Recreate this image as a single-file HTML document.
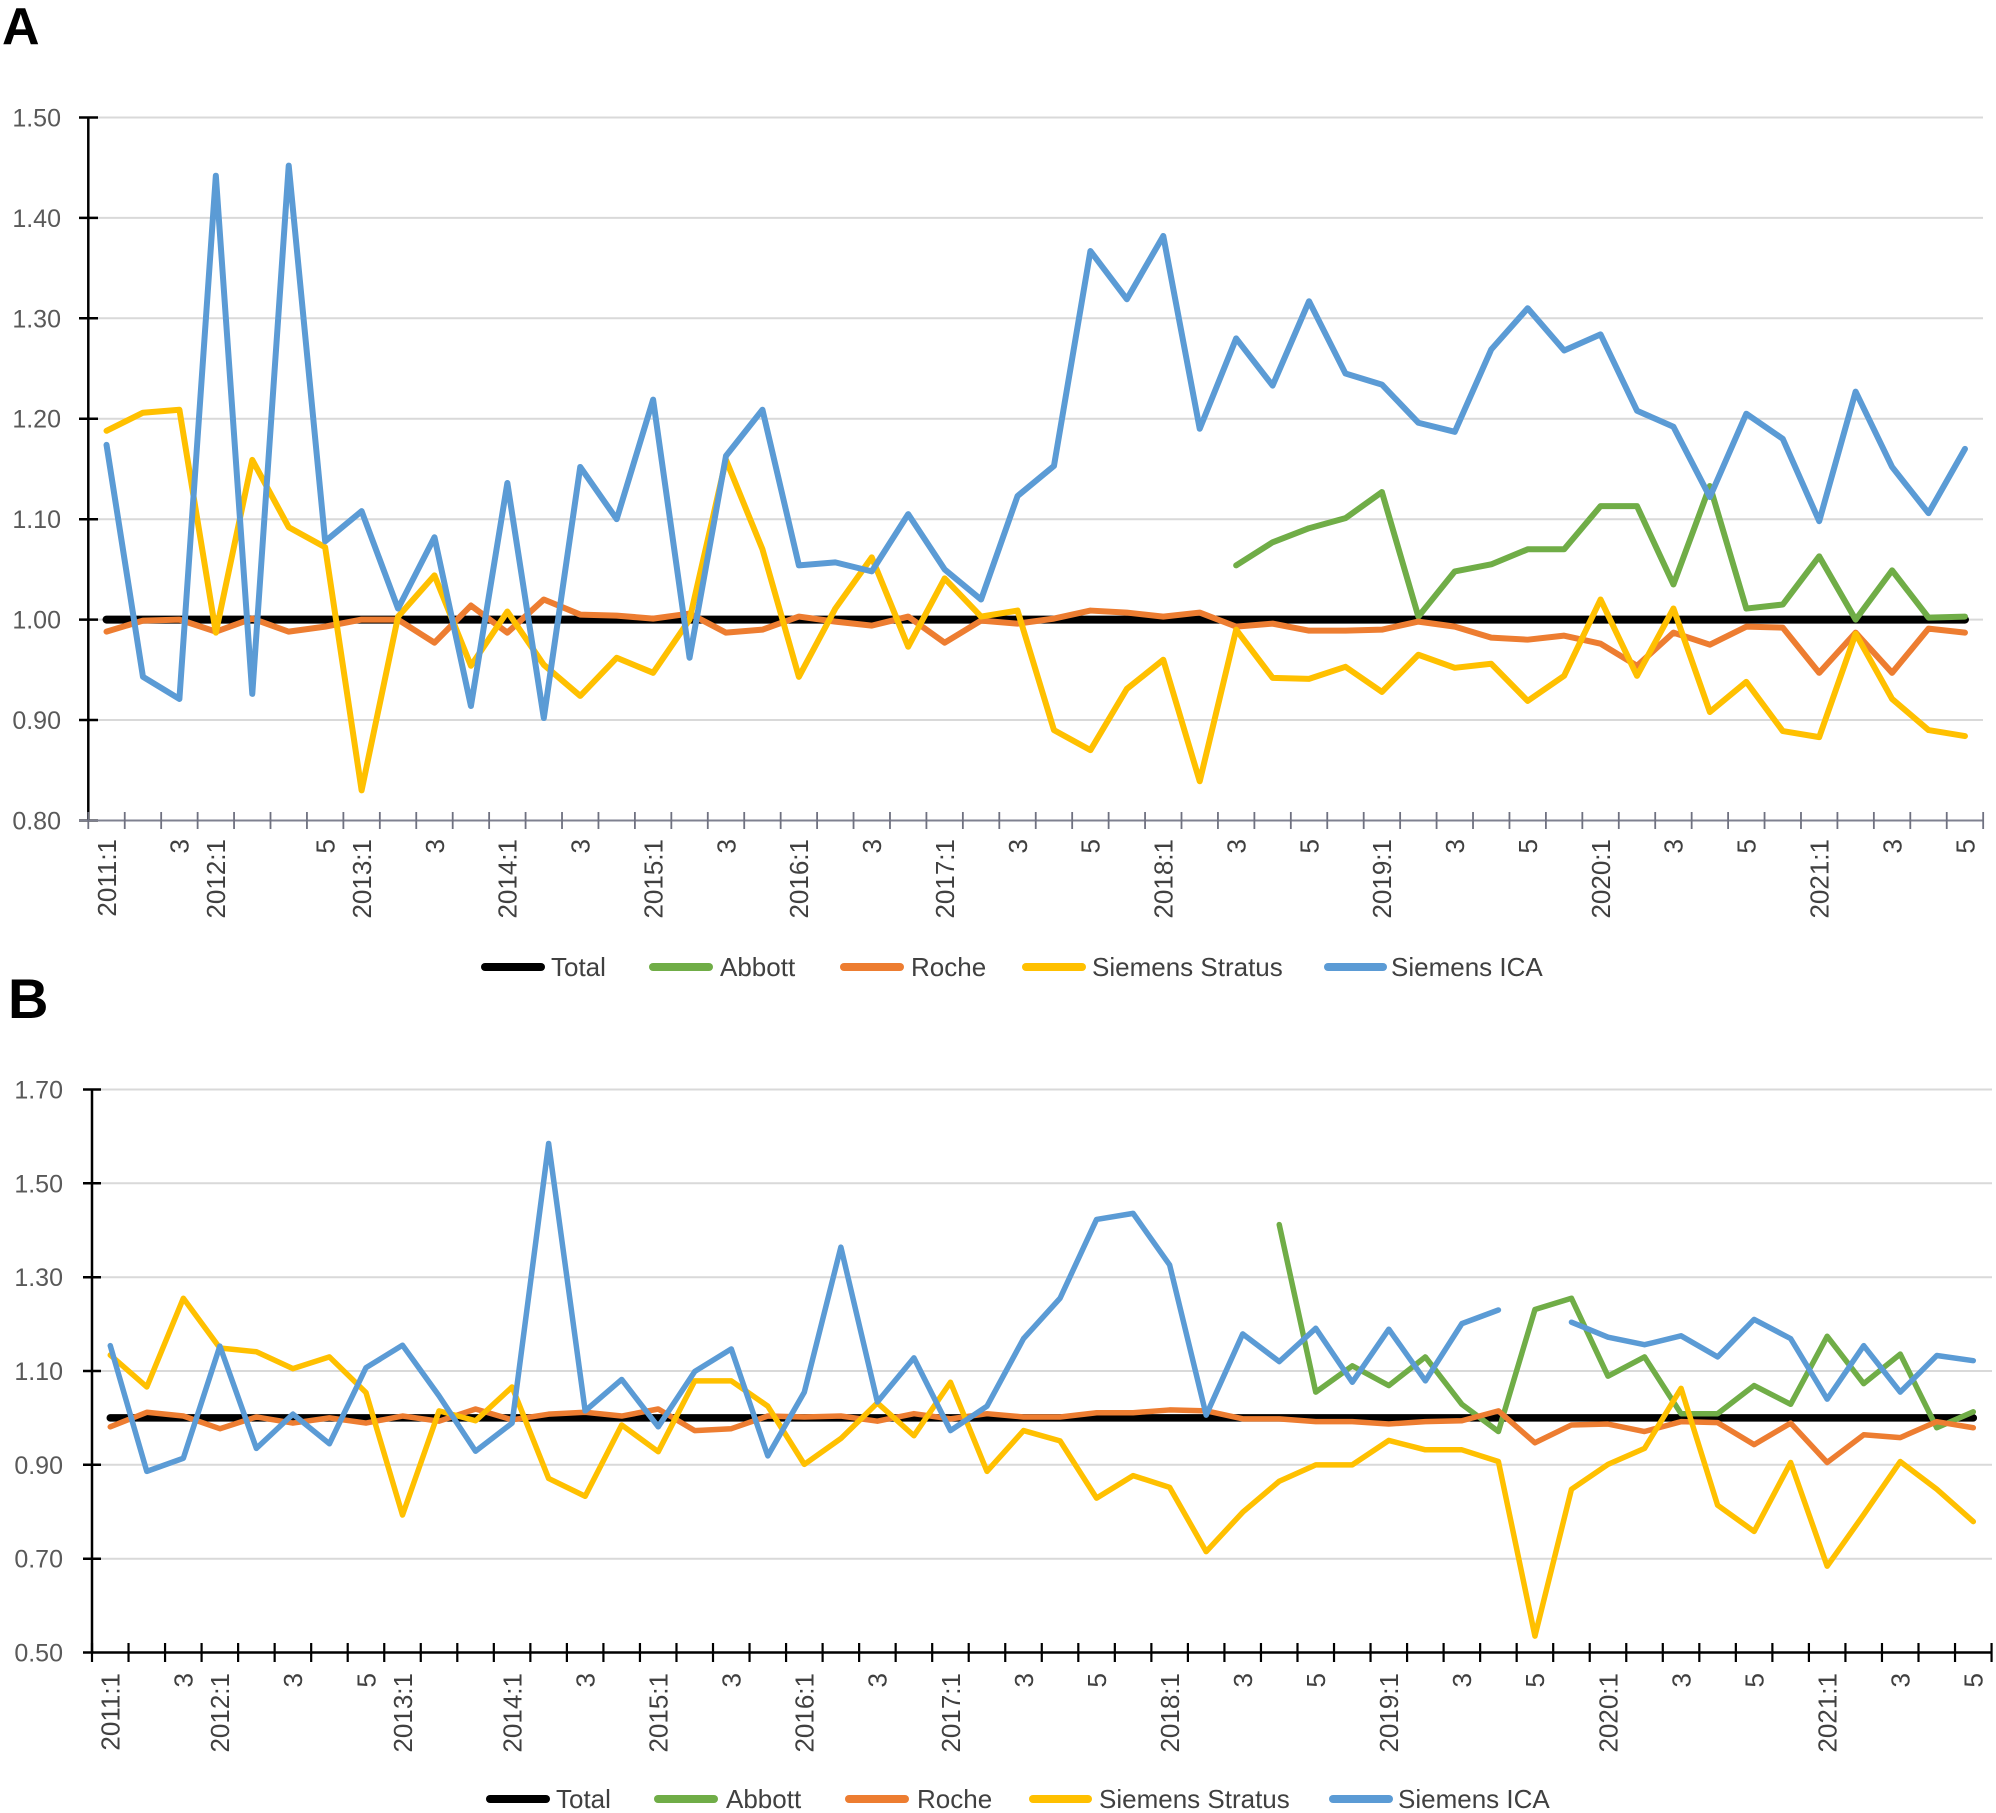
<!DOCTYPE html>
<html><head><meta charset="utf-8"><style>
html,body{margin:0;padding:0;background:#fff;}
svg{display:block;}
text{font-family:"Liberation Sans",Arial,sans-serif;}
.yl{font-size:25px;fill:#595959;text-anchor:end;}
.xl{font-size:26px;fill:#404040;text-anchor:end;}
.lg{font-size:26px;fill:#404040;}
.s{fill:none;vector-effect:non-scaling-stroke;stroke-linejoin:round;stroke-linecap:round;}
</style></head><body>
<svg width="1996" height="1813" viewBox="0 0 1996 1813" xmlns="http://www.w3.org/2000/svg">
<rect width="1996" height="1813" fill="#fff"/>
<text x="2" y="44" style="font-size:52px;font-weight:bold;fill:#000">A</text>
<text x="8" y="1018" style="font-size:56px;font-weight:bold;fill:#000">B</text>

<!-- ============ CHART A ============ -->
<g stroke="#d9d9d9" stroke-width="2">
<line x1="98" y1="117.45" x2="1983" y2="117.45"/>
<line x1="98" y1="217.9" x2="1983" y2="217.9"/>
<line x1="98" y1="318.3" x2="1983" y2="318.3"/>
<line x1="98" y1="418.7" x2="1983" y2="418.7"/>
<line x1="98" y1="519.2" x2="1983" y2="519.2"/>
<line x1="98" y1="619.6" x2="1983" y2="619.6"/>
<line x1="98" y1="720" x2="1983" y2="720"/>
</g>
<g class="yl">
<text x="61" y="126.5">1.50</text>
<text x="61" y="226.9">1.40</text>
<text x="61" y="327.3">1.30</text>
<text x="61" y="427.7">1.20</text>
<text x="61" y="528.2">1.10</text>
<text x="61" y="628.6">1.00</text>
<text x="61" y="729">0.90</text>
<text x="61" y="829.5">0.80</text>
</g>
<!-- y axis A -->
<g stroke="#000" stroke-width="2.5">
<line x1="88.3" y1="117.45" x2="88.3" y2="820.5"/>
<line x1="79" y1="117.45" x2="98" y2="117.45"/>
<line x1="79" y1="217.9" x2="98" y2="217.9"/>
<line x1="79" y1="318.3" x2="98" y2="318.3"/>
<line x1="79" y1="418.7" x2="98" y2="418.7"/>
<line x1="79" y1="519.2" x2="98" y2="519.2"/>
<line x1="79" y1="619.6" x2="98" y2="619.6"/>
<line x1="79" y1="720" x2="98" y2="720"/>
<line x1="79" y1="820.5" x2="98" y2="820.5"/>
</g>
<!-- x axis A -->
<line x1="79" y1="820.5" x2="1983.3" y2="820.5" stroke="#7f8190" stroke-width="2"/>
<g transform="translate(88.3,0)">
<path stroke="#6f7180" stroke-width="1.8" fill="none" d="M0 812V829M36.44 812V829M72.88 812V829M109.32 812V829M145.76 812V829M182.2 812V829M218.64 812V829M255.08 812V829M291.52 812V829M327.96 812V829M364.4 812V829M400.84 812V829M437.28 812V829M473.72 812V829M510.16 812V829M546.6 812V829M583.04 812V829M619.48 812V829M655.92 812V829M692.36 812V829M728.8 812V829M765.24 812V829M801.68 812V829M838.12 812V829M874.56 812V829M911 812V829M947.44 812V829M983.88 812V829M1020.32 812V829M1056.76 812V829M1093.2 812V829M1129.64 812V829M1166.08 812V829M1202.52 812V829M1238.96 812V829M1275.4 812V829M1311.84 812V829M1348.28 812V829M1384.72 812V829M1421.16 812V829M1457.6 812V829M1494.04 812V829M1530.48 812V829M1566.92 812V829M1603.36 812V829M1639.8 812V829M1676.24 812V829M1712.68 812V829M1749.12 812V829M1785.56 812V829M1822 812V829M1858.44 812V829M1894.88 812V829"/>
</g>
<g class="xl">
<text transform="translate(106.5,839) rotate(-90)" y="9.3">2011:1</text>
<text transform="translate(179.4,839) rotate(-90)" y="9.3">3</text>
<text transform="translate(215.8,839) rotate(-90)" y="9.3">2012:1</text>
<text transform="translate(325.2,839) rotate(-90)" y="9.3">5</text>
<text transform="translate(361.6,839) rotate(-90)" y="9.3">2013:1</text>
<text transform="translate(434.5,839) rotate(-90)" y="9.3">3</text>
<text transform="translate(507.4,839) rotate(-90)" y="9.3">2014:1</text>
<text transform="translate(580.2,839) rotate(-90)" y="9.3">3</text>
<text transform="translate(653.1,839) rotate(-90)" y="9.3">2015:1</text>
<text transform="translate(726.0,839) rotate(-90)" y="9.3">3</text>
<text transform="translate(798.9,839) rotate(-90)" y="9.3">2016:1</text>
<text transform="translate(871.8,839) rotate(-90)" y="9.3">3</text>
<text transform="translate(944.6,839) rotate(-90)" y="9.3">2017:1</text>
<text transform="translate(1017.5,839) rotate(-90)" y="9.3">3</text>
<text transform="translate(1090.4,839) rotate(-90)" y="9.3">5</text>
<text transform="translate(1163.3,839) rotate(-90)" y="9.3">2018:1</text>
<text transform="translate(1236.2,839) rotate(-90)" y="9.3">3</text>
<text transform="translate(1309.0,839) rotate(-90)" y="9.3">5</text>
<text transform="translate(1381.9,839) rotate(-90)" y="9.3">2019:1</text>
<text transform="translate(1454.8,839) rotate(-90)" y="9.3">3</text>
<text transform="translate(1527.7,839) rotate(-90)" y="9.3">5</text>
<text transform="translate(1600.6,839) rotate(-90)" y="9.3">2020:1</text>
<text transform="translate(1673.4,839) rotate(-90)" y="9.3">3</text>
<text transform="translate(1746.3,839) rotate(-90)" y="9.3">5</text>
<text transform="translate(1819.2,839) rotate(-90)" y="9.3">2021:1</text>
<text transform="translate(1892.1,839) rotate(-90)" y="9.3">3</text>
<text transform="translate(1965.0,839) rotate(-90)" y="9.3">5</text>
</g>
<!-- series A -->
<g transform="translate(106.52,1623.9) scale(36.44,-1004.3)">
<polyline class="s" stroke="#000" stroke-width="8" points="0,1 51,1"/>
<polyline class="s" stroke="#70AD47" stroke-width="6" points="31,1.054 32,1.077 33,1.091 34,1.101 35,1.127 36,1.003 37,1.048 38,1.055 39,1.070 40,1.070 41,1.113 42,1.113 43,1.035 44,1.133 45,1.011 46,1.015 47,1.063 48,1.0 49,1.049 50,1.002 51,1.003"/>
<polyline class="s" stroke="#ED7D31" stroke-width="6" points="0,0.988 1,0.999 2,1.0 3,0.988 4,1.001 5,0.988 6,0.993 7,1.0 8,1.0 9,0.977 10,1.014 11,0.987 12,1.020 13,1.005 14,1.004 15,1.001 16,1.006 17,0.987 18,0.990 19,1.003 20,0.998 21,0.994 22,1.003 23,0.977 24,0.999 25,0.996 26,1.001 27,1.009 28,1.007 29,1.003 30,1.007 31,0.993 32,0.996 33,0.989 34,0.989 35,0.990 36,0.998 37,0.993 38,0.982 39,0.980 40,0.984 41,0.976 42,0.954 43,0.987 44,0.975 45,0.993 46,0.992 47,0.947 48,0.987 49,0.947 50,0.991 51,0.987"/>
<polyline class="s" stroke="#FFC000" stroke-width="6" points="0,1.188 1,1.206 2,1.209 3,0.987 4,1.159 5,1.092 6,1.072 7,0.830 8,1.003 9,1.044 10,0.954 11,1.008 12,0.955 13,0.924 14,0.962 15,0.947 16,1.0 17,1.159 18,1.07 19,0.943 20,1.011 21,1.062 22,0.973 23,1.041 24,1.003 25,1.009 26,0.890 27,0.870 28,0.931 29,0.960 30,0.839 31,0.990 32,0.942 33,0.941 34,0.953 35,0.928 36,0.965 37,0.952 38,0.956 39,0.919 40,0.944 41,1.020 42,0.944 43,1.011 44,0.908 45,0.938 46,0.889 47,0.883 48,0.986 49,0.921 50,0.890 51,0.884"/>
<polyline class="s" stroke="#5B9BD5" stroke-width="6" points="0,1.174 1,0.943 2,0.921 3,1.442 4,0.926 5,1.452 6,1.078 7,1.108 8,1.011 9,1.082 10,0.914 11,1.136 12,0.902 13,1.152 14,1.10 15,1.219 16,0.962 17,1.163 18,1.209 19,1.054 20,1.057 21,1.048 22,1.105 23,1.050 24,1.020 25,1.123 26,1.153 27,1.367 28,1.319 29,1.382 30,1.190 31,1.280 32,1.233 33,1.317 34,1.245 35,1.234 36,1.196 37,1.187 38,1.269 39,1.310 40,1.268 41,1.284 42,1.208 43,1.192 44,1.122 45,1.205 46,1.180 47,1.098 48,1.227 49,1.152 50,1.106 51,1.170"/>
</g>
<!-- legend A -->
<g stroke-width="8" stroke-linecap="round">
<line x1="485" y1="967" x2="541" y2="967" stroke="#000"/>
<line x1="653" y1="967" x2="709" y2="967" stroke="#70AD47"/>
<line x1="844" y1="967" x2="900" y2="967" stroke="#ED7D31"/>
<line x1="1026" y1="967" x2="1082" y2="967" stroke="#FFC000"/>
<line x1="1328" y1="967" x2="1383" y2="967" stroke="#5B9BD5"/>
</g>
<g class="lg">
<text x="551" y="976">Total</text>
<text x="720" y="976">Abbott</text>
<text x="911" y="976">Roche</text>
<text x="1092" y="976">Siemens Stratus</text>
<text x="1391" y="976">Siemens ICA</text>
</g>

<!-- ============ CHART B ============ -->
<g stroke="#d9d9d9" stroke-width="2">
<line x1="101" y1="1089.5" x2="1992" y2="1089.5"/>
<line x1="101" y1="1183.3" x2="1992" y2="1183.3"/>
<line x1="101" y1="1277.2" x2="1992" y2="1277.2"/>
<line x1="101" y1="1371" x2="1992" y2="1371"/>
<line x1="101" y1="1464.8" x2="1992" y2="1464.8"/>
<line x1="101" y1="1558.7" x2="1992" y2="1558.7"/>
</g>
<g class="yl">
<text x="63" y="1098.5">1.70</text>
<text x="63" y="1192.3">1.50</text>
<text x="63" y="1286.2">1.30</text>
<text x="63" y="1380">1.10</text>
<text x="63" y="1473.8">0.90</text>
<text x="63" y="1567.7">0.70</text>
<text x="63" y="1661.5">0.50</text>
</g>
<g stroke="#000" stroke-width="2.5">
<line x1="92" y1="1089.5" x2="92" y2="1652.5"/>
<line x1="83" y1="1089.5" x2="101" y2="1089.5"/>
<line x1="83" y1="1183.3" x2="101" y2="1183.3"/>
<line x1="83" y1="1277.2" x2="101" y2="1277.2"/>
<line x1="83" y1="1371" x2="101" y2="1371"/>
<line x1="83" y1="1464.8" x2="101" y2="1464.8"/>
<line x1="83" y1="1558.7" x2="101" y2="1558.7"/>
<line x1="83" y1="1652.5" x2="1992" y2="1652.5"/>
</g>
<g transform="translate(92,0)">
<path stroke="#000" stroke-width="2.2" fill="none" d="M0 1643V1662M36.53 1643V1662M73.06 1643V1662M109.59 1643V1662M146.12 1643V1662M182.65 1643V1662M219.18 1643V1662M255.71 1643V1662M292.24 1643V1662M328.77 1643V1662M365.3 1643V1662M401.83 1643V1662M438.36 1643V1662M474.89 1643V1662M511.42 1643V1662M547.95 1643V1662M584.48 1643V1662M621.01 1643V1662M657.54 1643V1662M694.07 1643V1662M730.6 1643V1662M767.13 1643V1662M803.66 1643V1662M840.19 1643V1662M876.72 1643V1662M913.25 1643V1662M949.78 1643V1662M986.31 1643V1662M1022.84 1643V1662M1059.37 1643V1662M1095.9 1643V1662M1132.43 1643V1662M1168.96 1643V1662M1205.49 1643V1662M1242.02 1643V1662M1278.55 1643V1662M1315.08 1643V1662M1351.61 1643V1662M1388.14 1643V1662M1424.67 1643V1662M1461.2 1643V1662M1497.73 1643V1662M1534.26 1643V1662M1570.79 1643V1662M1607.32 1643V1662M1643.85 1643V1662M1680.38 1643V1662M1716.91 1643V1662M1753.44 1643V1662M1789.97 1643V1662M1826.5 1643V1662M1863.03 1643V1662M1899.56 1643V1662"/>
</g>
<g class="xl">
<text transform="translate(110.3,1673) rotate(-90)" y="9.3">2011:1</text>
<text transform="translate(183.3,1673) rotate(-90)" y="9.3">3</text>
<text transform="translate(219.9,1673) rotate(-90)" y="9.3">2012:1</text>
<text transform="translate(292.9,1673) rotate(-90)" y="9.3">3</text>
<text transform="translate(366.0,1673) rotate(-90)" y="9.3">5</text>
<text transform="translate(402.5,1673) rotate(-90)" y="9.3">2013:1</text>
<text transform="translate(512.1,1673) rotate(-90)" y="9.3">2014:1</text>
<text transform="translate(585.2,1673) rotate(-90)" y="9.3">3</text>
<text transform="translate(658.2,1673) rotate(-90)" y="9.3">2015:1</text>
<text transform="translate(731.3,1673) rotate(-90)" y="9.3">3</text>
<text transform="translate(804.3,1673) rotate(-90)" y="9.3">2016:1</text>
<text transform="translate(877.4,1673) rotate(-90)" y="9.3">3</text>
<text transform="translate(950.5,1673) rotate(-90)" y="9.3">2017:1</text>
<text transform="translate(1023.5,1673) rotate(-90)" y="9.3">3</text>
<text transform="translate(1096.6,1673) rotate(-90)" y="9.3">5</text>
<text transform="translate(1169.6,1673) rotate(-90)" y="9.3">2018:1</text>
<text transform="translate(1242.7,1673) rotate(-90)" y="9.3">3</text>
<text transform="translate(1315.8,1673) rotate(-90)" y="9.3">5</text>
<text transform="translate(1388.8,1673) rotate(-90)" y="9.3">2019:1</text>
<text transform="translate(1461.9,1673) rotate(-90)" y="9.3">3</text>
<text transform="translate(1534.9,1673) rotate(-90)" y="9.3">5</text>
<text transform="translate(1608.0,1673) rotate(-90)" y="9.3">2020:1</text>
<text transform="translate(1681.1,1673) rotate(-90)" y="9.3">3</text>
<text transform="translate(1754.1,1673) rotate(-90)" y="9.3">5</text>
<text transform="translate(1827.2,1673) rotate(-90)" y="9.3">2021:1</text>
<text transform="translate(1900.2,1673) rotate(-90)" y="9.3">3</text>
<text transform="translate(1973.3,1673) rotate(-90)" y="9.3">5</text>
</g>
<!-- series B -->
<g transform="translate(110.27,1887.06) scale(36.53,-469.15)">
<polyline class="s" stroke="#000" stroke-width="7.5" points="0,1 51,1"/>
<polyline class="s" stroke="#70AD47" stroke-width="5.5" points="32,1.412 33,1.055 34,1.111 35,1.069 36,1.130 37,1.029 38,0.971 39,1.231 40,1.255 41,1.089 42,1.130 43,1.009 44,1.009 45,1.069 46,1.029 47,1.174 48,1.073 49,1.136 50,0.979 51,1.013"/>
<polyline class="s" stroke="#ED7D31" stroke-width="5.5" points="0,0.981 1,1.012 2,1.004 3,0.977 4,1.002 5,0.989 6,1.0 7,0.989 8,1.004 9,0.993 10,1.019 11,0.996 12,1.008 13,1.012 14,1.004 15,1.019 16,0.973 17,0.977 18,1.004 19,1.002 20,1.004 21,0.993 22,1.009 23,0.998 24,1.009 25,1.002 26,1.002 27,1.011 28,1.011 29,1.017 30,1.015 31,0.998 32,0.998 33,0.992 34,0.992 35,0.987 36,0.992 37,0.994 38,1.015 39,0.947 40,0.985 41,0.987 42,0.971 43,0.992 44,0.990 45,0.943 46,0.989 47,0.905 48,0.964 49,0.958 50,0.992 51,0.979"/>
<polyline class="s" stroke="#FFC000" stroke-width="5.5" points="0,1.134 1,1.066 2,1.255 3,1.149 4,1.141 5,1.105 6,1.130 7,1.054 8,0.793 9,1.015 10,0.994 11,1.066 12,0.871 13,0.833 14,0.985 15,0.928 16,1.079 17,1.079 18,1.025 19,0.901 20,0.956 21,1.032 22,0.962 23,1.076 24,0.886 25,0.973 26,0.951 27,0.829 28,0.877 29,0.852 30,0.715 31,0.799 32,0.865 33,0.900 34,0.900 35,0.952 36,0.932 37,0.932 38,0.907 39,0.535 40,0.848 41,0.901 42,0.935 43,1.063 44,0.814 45,0.758 46,0.905 47,0.684 48,0.794 49,0.907 50,0.848 51,0.779"/>
<polyline class="s" stroke="#5B9BD5" stroke-width="5.5" points="0,1.154 1,0.886 2,0.914 3,1.153 4,0.935 5,1.008 6,0.945 7,1.107 8,1.155 9,1.047 10,0.929 11,0.989 12,1.585 13,1.015 14,1.082 15,0.981 16,1.099 17,1.147 18,0.919 19,1.055 20,1.364 21,1.034 22,1.128 23,0.973 24,1.025 25,1.169 26,1.255 27,1.423 28,1.436 29,1.326 30,1.006 31,1.179 32,1.12 33,1.191 34,1.076 35,1.189 36,1.079 37,1.201 38,1.230"/>
<polyline class="s" stroke="#5B9BD5" stroke-width="5.5" points="40,1.204 41,1.172 42,1.156 43,1.175 44,1.130 45,1.210 46,1.169 47,1.040 48,1.154 49,1.055 50,1.133 51,1.122"/>
</g>
<!-- legend B -->
<g stroke-width="8" stroke-linecap="round">
<line x1="490" y1="1799" x2="546" y2="1799" stroke="#000"/>
<line x1="658" y1="1799" x2="714" y2="1799" stroke="#70AD47"/>
<line x1="849" y1="1799" x2="905" y2="1799" stroke="#ED7D31"/>
<line x1="1033" y1="1799" x2="1088" y2="1799" stroke="#FFC000"/>
<line x1="1333" y1="1799" x2="1389" y2="1799" stroke="#5B9BD5"/>
</g>
<g class="lg">
<text x="556" y="1808">Total</text>
<text x="726" y="1808">Abbott</text>
<text x="917" y="1808">Roche</text>
<text x="1099" y="1808">Siemens Stratus</text>
<text x="1398" y="1808">Siemens ICA</text>
</g>
</svg>
</body></html>
